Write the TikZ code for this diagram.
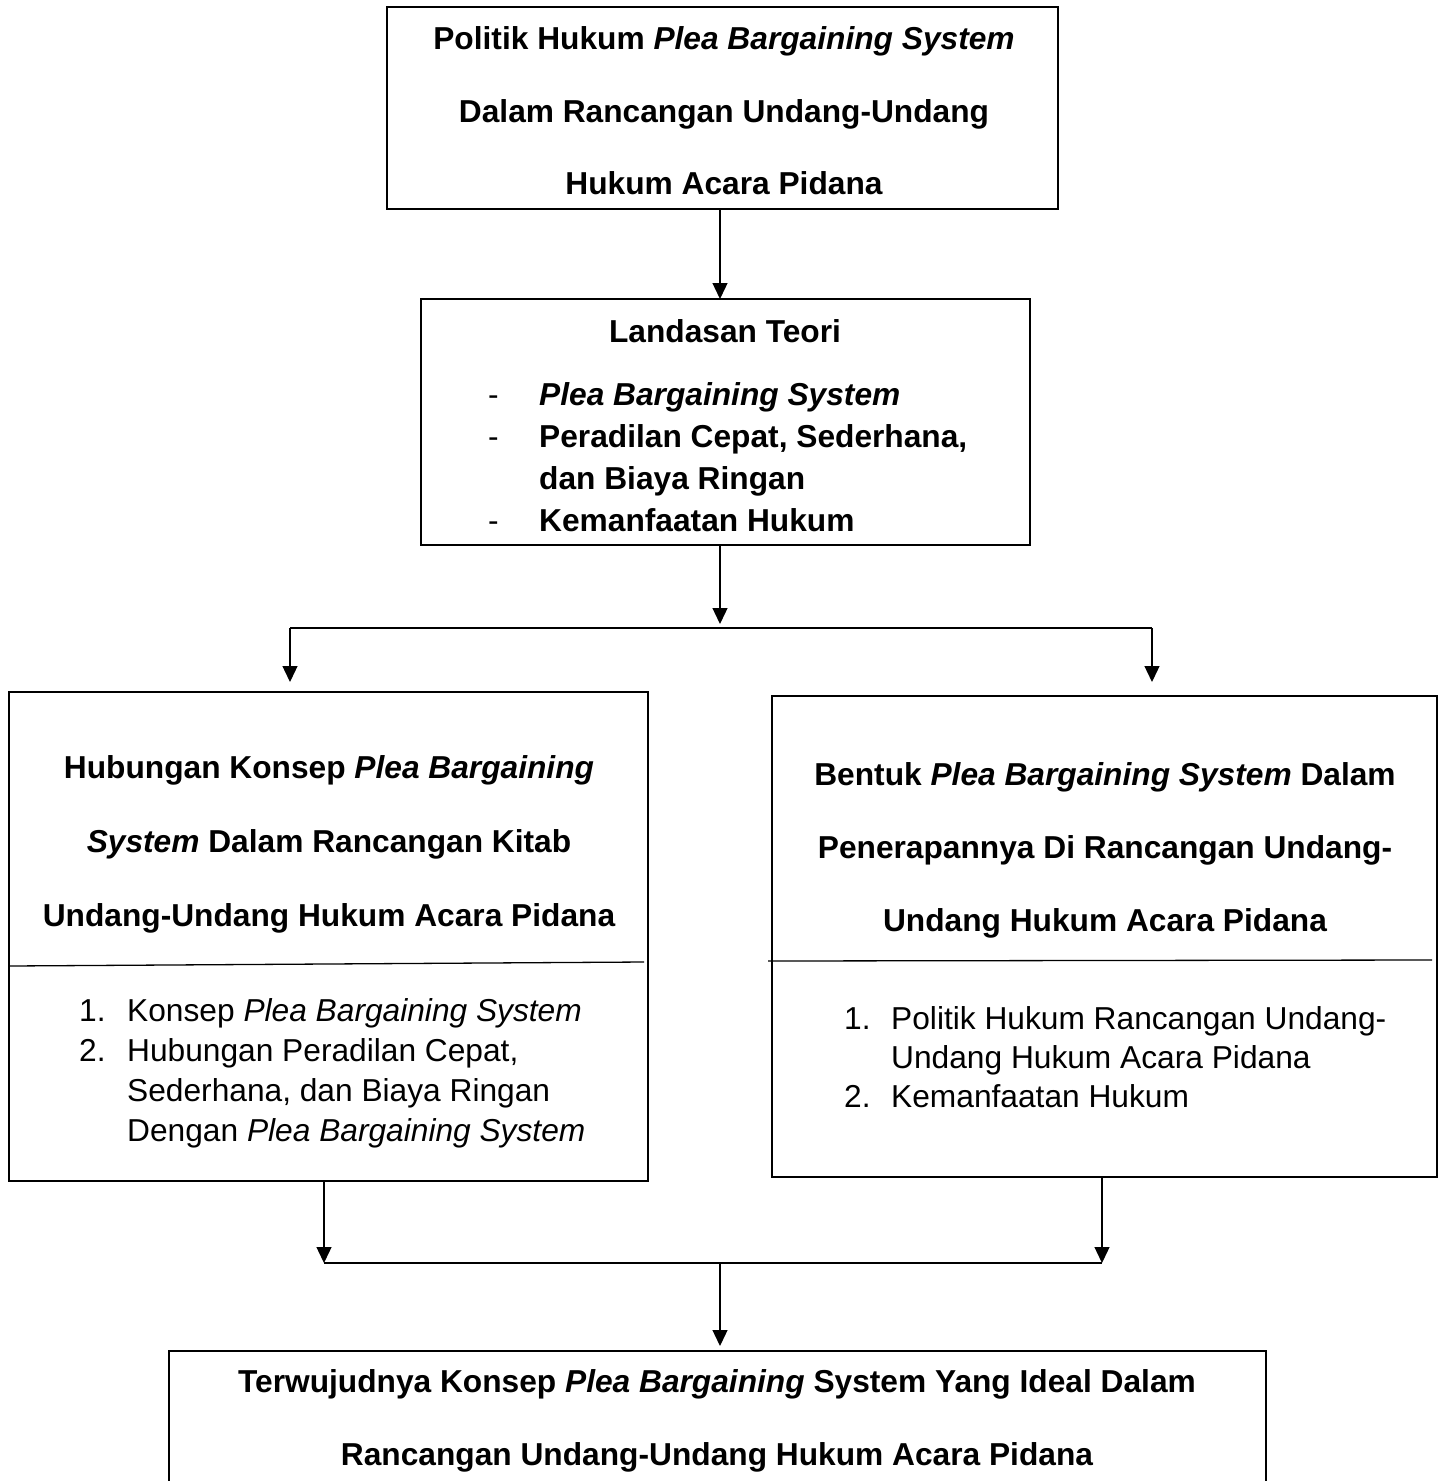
\documentclass[tikz,border=0pt]{standalone}
\usepackage{fontspec}
\setmainfont{Liberation Sans}
\usetikzlibrary{arrows.meta}
\begin{document}
\begin{tikzpicture}[x=1pt,y=-1pt,
  box/.style={draw, line width=2.5pt, inner sep=0pt, outer sep=0pt},
  conn/.style={line width=1.3pt},
  arr/.style={line width=1.3pt, -{Triangle[length=16pt,width=15pt]}},
  tb/.style={anchor=base, inner sep=0pt, font=\fontsize{31.7}{38}\selectfont\bfseries},
  tl/.style={anchor=base west, inner sep=0pt, font=\fontsize{31.7}{38}\selectfont\bfseries},
  tr/.style={anchor=base west, inner sep=0pt, font=\fontsize{31.7}{38}\selectfont}
]
\useasboundingbox (0,0) rectangle (1445,1481);
\fill[white] (0,0) rectangle (1445,1481);

% boxes
\node[box, minimum width=671pt, minimum height=202pt] (b1) at (722.5,108) {};
\node[box, minimum width=609pt, minimum height=246pt] (b2) at (725.5,422) {};
\node[box, minimum width=639pt, minimum height=489pt] (lb) at (328.5,936.5) {};
\node[box, minimum width=665pt, minimum height=481pt] (rb) at (1104.5,936.5) {};
\node[box, minimum width=1097pt, minimum height=169pt] (bb) at (717.5,1435.5) {};

% box 1 text
\node[tb] (t1a) at (724,49) {Politik Hukum \textit{Plea Bargaining System}};
\node[tb] (t1b) at (724,122) {Dalam Rancangan Undang-Undang};
\node[tb] (t1c) at (724,194) {Hukum Acara Pidana};

% box 2 text
\node[tb] (t2a) at (725,342) {Landasan Teori};
\node[tr] (d2a) at (488,405) {-};
\node[tr] (d2b) at (488,447) {-};
\node[tr] (d2c) at (488,531) {-};
\node[tl] (t2b) at (539,405) {\textit{Plea Bargaining System}};
\node[tl] (t2c) at (539,447) {Peradilan Cepat, Sederhana,};
\node[tl] (t2d) at (539,489) {dan Biaya Ringan};
\node[tl] (t2e) at (539,531) {Kemanfaatan Hukum};

% left box text
\node[tb] (l1) at (329,778) {Hubungan Konsep \textit{Plea Bargaining}};
\node[tb] (l2) at (329,852) {\textit{System} Dalam Rancangan Kitab};
\node[tb] (l3) at (329,926) {Undang-Undang Hukum Acara Pidana};
\draw[conn] (9,966) -- (644,962);
\node[tr] (ln1) at (79,1021) {1.};
\node[tr] (ln2) at (79,1061) {2.};
\node[tr] (li1) at (127,1021) {Konsep \textit{Plea Bargaining System}};
\node[tr] (li2) at (127,1061) {Hubungan Peradilan Cepat,};
\node[tr] (li3) at (127,1101) {Sederhana, dan Biaya Ringan};
\node[tr] (li4) at (127,1141) {Dengan \textit{Plea Bargaining System}};

% right box text
\node[tb] (r1) at (1105,785) {Bentuk \textit{Plea Bargaining System} Dalam};
\node[tb] (r2) at (1105,858) {Penerapannya Di Rancangan Undang-};
\node[tb] (r3) at (1105,931) {Undang Hukum Acara Pidana};
\draw[conn] (768,961) -- (1432,960);
\node[tr] (rn1) at (844,1029) {1.};
\node[tr] (rn2) at (844,1107) {2.};
\node[tr] (ri1) at (891,1029) {Politik Hukum Rancangan Undang-};
\node[tr] (ri2) at (891,1068) {Undang Hukum Acara Pidana};
\node[tr] (ri3) at (891,1107) {Kemanfaatan Hukum};

% bottom box text
\node[tb] (bt1) at (717,1392) {Terwujudnya Konsep \textit{Plea Bargaining} System Yang Ideal Dalam};
\node[tb] (bt2) at (717,1465) {Rancangan Undang-Undang Hukum Acara Pidana};

% connectors
\coordinate (tx) at (720,0);
\draw[arr] (b1.south -| tx) -- (b2.north -| tx);
\coordinate (j1) at (720,628);
\coordinate (jl) at (290,628);
\coordinate (jr) at (1152,628);
\draw[arr, shorten >=4pt] (b2.south -| tx) -- (j1);
\draw[conn] (jl) -- (jr);
\draw[arr, shorten >=10pt] (jl) -- (jl |- lb.north);
\draw[arr, shorten >=14pt] (jr) -- (jr |- rb.north);
\coordinate (k1) at (720,1263);
\coordinate (kl) at (324,1263);
\coordinate (kr) at (1102,1263);
\draw[arr] (lb.south -| kl) -- (kl);
\draw[arr] (rb.south -| kr) -- (kr);
\draw[conn] (kl) -- (kr);
\draw[arr, shorten >=5pt] (k1) -- (bb.north -| k1);
\end{tikzpicture}
\end{document}
